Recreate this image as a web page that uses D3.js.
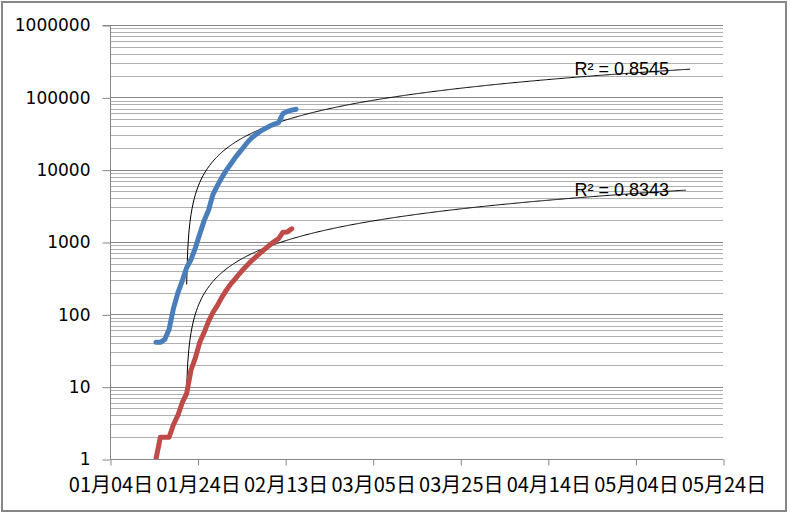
<!DOCTYPE html>
<html><head><meta charset="utf-8">
<script src="https://cdn.jsdelivr.net/npm/d3@7"></script>
<style>body{margin:0;background:#fff}svg{display:block}</style>
</head><body><svg id="c" width="790" height="515"></svg>
<script>
// ---- data ----
const year = 2019; // axis uses a non-leap year (02月13日 + 20 days = 03月05日)
const dates = ["01-14","01-15","01-16","01-17","01-18","01-19","01-20","01-21","01-22","01-23",
  "01-24","01-25","01-26","01-27","01-28","01-29","01-30","01-31","02-01","02-02",
  "02-03","02-04","02-05","02-06","02-07","02-08","02-09","02-10","02-11","02-12",
  "02-13","02-14","02-15"];
const confirmed = [41,41,45,62,121,198,291,440,571,830,
  1287,1975,2744,4515,5974,7711,9692,11791,14380,17205,
  20438,24324,28018,31161,34546,37198,40171,42638,44653,59804,
  63851,66492,68500];
const deaths = [1,2,2,2,3,4,6,8,17,25,
  41,56,80,106,132,170,213,259,304,361,
  425,490,563,636,722,811,908,1016,1113,1367,
  1380,1523];
const xTickDates = ["01-04","01-24","02-13","03-05","03-25","04-14","05-04","05-24"];
const yTickValues = [1,10,100,1000,10000,100000,1000000];
const r2Labels = ["R\u00B2 = 0.8545","R\u00B2 = 0.8343"];
const forecastDays = 90;
const seriesColors = ["#4A7EBB","#BE4B48"];

// ---- setup ----
const parse = d3.timeParse("%Y-%m-%d");
const toDate = s => parse(year + "-" + s);
const svg = d3.select("#c");
const P = {left:110, right:723, top:25, bottom:459};
const x = d3.scaleTime()
  .domain([toDate(xTickDates[0]), toDate(xTickDates[xTickDates.length-1])])
  .range([P.left, P.right]);
const y = d3.scaleLog().domain([yTickValues[0], yTickValues[yTickValues.length-1]]).range([P.bottom, P.top]);
// points sit in the middle of their day (date axis, between tick marks)
const xMid = d => x(d3.timeHour.offset(d, 12));

svg.append("rect").attr("x",0).attr("y",0).attr("width",790).attr("height",515).attr("fill","#fff");
svg.append("rect").attr("x",2).attr("y",2).attr("width",784).attr("height",509)
  .attr("fill","none").attr("stroke","#868686").attr("stroke-width",2);

// gridlines
const minor = [];
for (let i = 0; i < yTickValues.length-1; i++)
  for (let k = 2; k <= 9; k++) minor.push(yTickValues[i]*k);
svg.append("g").selectAll("line").data(minor).join("line")
  .attr("x1",P.left).attr("x2",P.right)
  .attr("y1",d=>Math.round(y(d))+0.5).attr("y2",d=>Math.round(y(d))+0.5)
  .attr("stroke","#b0b0b0").attr("stroke-width",1);
svg.append("g").selectAll("line").data(yTickValues.slice(1)).join("line")
  .attr("x1",P.left).attr("x2",P.right)
  .attr("y1",d=>Math.round(y(d))+0.5).attr("y2",d=>Math.round(y(d))+0.5)
  .attr("stroke","#868686").attr("stroke-width",1);

// axes
const yAxis = d3.axisLeft(y).tickValues(yTickValues).tickFormat(d3.format("d")).tickSize(8).tickPadding(12);
const gy = svg.append("g").attr("transform",`translate(${P.left+0.5},0.5)`).call(yAxis);
gy.select(".domain").attr("stroke","#868686").attr("d",`M-8,${P.top}H0V${P.bottom}`);
gy.selectAll(".tick line").attr("stroke","#868686");
gy.selectAll("text").attr("font-family","DejaVu Sans").attr("font-size",17).attr("fill","#000");

const xAxis = d3.axisBottom(x).tickValues(xTickDates.map(toDate))
  .tickFormat(d3.timeFormat("%m月%d日")).tickSize(6).tickPadding(12);
const gx = svg.append("g").attr("transform",`translate(0.5,${P.bottom+0.5})`).call(xAxis);
gx.select(".domain").attr("stroke","#868686").attr("d",`M${P.left},0H${P.right}`);
gx.selectAll(".tick line").attr("stroke","#868686");
gx.selectAll("text").attr("font-family","Noto Sans CJK JP").attr("font-size",20).attr("fill","#000");

// clip for plot area
svg.append("clipPath").attr("id","pa").append("rect")
  .attr("x",P.left).attr("y",P.top-5).attr("width",P.right-P.left+5).attr("height",P.bottom-P.top+5);

// trendlines: Excel-style logarithmic fit y = a*ln(serial date) + b, forecast forward
const serial = d => (d - new Date(1899,11,30)) / 864e5;
function logFit(ds, vs) {
  const X = ds.map(d => Math.log(serial(d)));
  const mx = d3.mean(X), my = d3.mean(vs);
  let sxy = 0, sxx = 0;
  X.forEach((v,i) => { sxy += (v-mx)*(vs[i]-my); sxx += (v-mx)*(v-mx); });
  const a = sxy/sxx, b = my - a*mx;
  return t => a*Math.log(serial(t)) + b;
}
const series = [confirmed, deaths];
const plot = svg.append("g").attr("clip-path","url(#pa)");
series.forEach((vals, si) => {
  const ds = dates.slice(0, vals.length).map(toDate);
  const f = logFit(ds, vals);
  const start = ds[0], end = d3.timeDay.offset(ds[ds.length-1], forecastDays);
  const pts = [];
  for (let t = +start; t <= +end; t += 864e5/4) {
    const v = f(new Date(t));
    if (v > 0) pts.push([new Date(t), v]);
  }
  plot.append("path").datum(pts)
    .attr("d", d3.line().x(p=>xMid(p[0])).y(p=>y(p[1])))
    .attr("fill","none").attr("stroke","#000").attr("stroke-width",1);
});
series.forEach((vals, si) => {
  const ds = dates.slice(0, vals.length).map(toDate);
  plot.append("path").datum(vals)
    .attr("d", d3.line().x((v,i)=>xMid(ds[i])).y(v=>y(v)))
    .attr("fill","none").attr("stroke",seriesColors[si]).attr("stroke-width",5)
    .attr("stroke-linecap","round").attr("stroke-linejoin","round");
});

// R² labels
const labelPos = [[669,75],[669,196]];
r2Labels.forEach((t,i) => {
  svg.append("text").attr("x",labelPos[i][0]).attr("y",labelPos[i][1])
    .attr("text-anchor","end").attr("font-family","Liberation Sans").attr("font-size",18)
    .attr("fill","#000").text(t);
});
</script></body></html>
